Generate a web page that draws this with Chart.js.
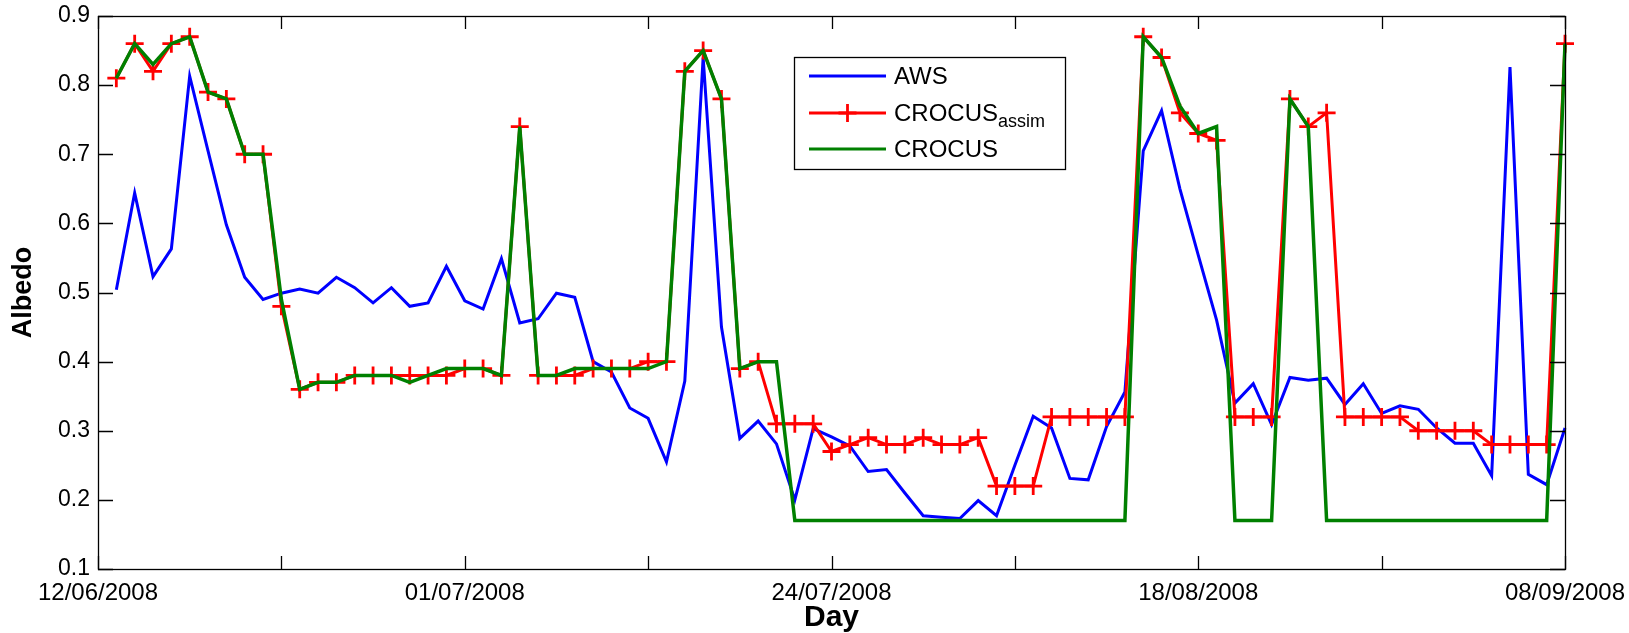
<!DOCTYPE html>
<html>
<head>
<meta charset="utf-8">
<script src="https://cdn.jsdelivr.net/npm/chart.js@4/dist/chart.umd.min.js"></script>
<style>
  html, body { margin: 0; padding: 0; background: #ffffff; }
  #wrap { width: 1629px; height: 633px; }
</style>
</head>
<body>
<div id="wrap"><canvas id="c" width="1629" height="633"></canvas></div>
<script>
// ---- data (one sample per observation day, x = sample number 1..80) ----
const xTickValues = [0, 10, 20, 30, 40, 50, 60, 70, 80];
const xTickLabels = ['12/06/2008', '', '01/07/2008', '', '24/07/2008', '', '18/08/2008', '', '08/09/2008'];
const yTickValues = [0.1, 0.2, 0.3, 0.4, 0.5, 0.6, 0.7, 0.8, 0.9];

const aws = [
  0.504, 0.644, 0.523, 0.563, 0.813, 0.705, 0.598, 0.522, 0.490, 0.499,
  0.505, 0.499, 0.522, 0.507, 0.485, 0.507, 0.480, 0.485, 0.538, 0.488,
  0.476, 0.549, 0.456, 0.462, 0.499, 0.493, 0.400, 0.385, 0.333, 0.318,
  0.255, 0.372, 0.840, 0.450, 0.289, 0.314, 0.281, 0.200, 0.303, 0.291,
  0.278, 0.241, 0.244, 0.210, 0.177, 0.175, 0.173, 0.199, 0.177, 0.250,
  0.321, 0.304, 0.231, 0.229, 0.306, 0.356, 0.705, 0.763, 0.650, 0.554,
  0.460, 0.340, 0.368, 0.309, 0.377, 0.373, 0.376, 0.338, 0.368, 0.325,
  0.336, 0.331, 0.304, 0.282, 0.282, 0.235, 0.826, 0.237, 0.222, 0.304
];
const crocusAssim = [
  0.81, 0.86, 0.82, 0.86, 0.87, 0.79, 0.78, 0.70, 0.70, 0.48,
  0.36, 0.37, 0.37, 0.38, 0.38, 0.38, 0.38, 0.38, 0.38, 0.39,
  0.39, 0.38, 0.74, 0.38, 0.38, 0.38, 0.39, 0.39, 0.39, 0.40,
  0.40, 0.82, 0.85, 0.78, 0.39, 0.40, 0.31, 0.31, 0.31, 0.27,
  0.28, 0.29, 0.28, 0.28, 0.29, 0.28, 0.28, 0.29, 0.22, 0.22,
  0.22, 0.32, 0.32, 0.32, 0.32, 0.32, 0.87, 0.84, 0.76, 0.73,
  0.72, 0.32, 0.32, 0.32, 0.78, 0.74, 0.76, 0.32, 0.32, 0.32,
  0.32, 0.30, 0.30, 0.30, 0.30, 0.28, 0.28, 0.28, 0.28, 0.86
];
const crocus = [
  0.81, 0.86, 0.83, 0.86, 0.87, 0.79, 0.78, 0.70, 0.70, 0.49,
  0.36, 0.37, 0.37, 0.38, 0.38, 0.38, 0.37, 0.38, 0.39, 0.39,
  0.39, 0.38, 0.74, 0.38, 0.38, 0.39, 0.39, 0.39, 0.39, 0.39,
  0.40, 0.82, 0.85, 0.78, 0.39, 0.40, 0.40, 0.17, 0.17, 0.17,
  0.17, 0.17, 0.17, 0.17, 0.17, 0.17, 0.17, 0.17, 0.17, 0.17,
  0.17, 0.17, 0.17, 0.17, 0.17, 0.17, 0.87, 0.84, 0.77, 0.73,
  0.74, 0.17, 0.17, 0.17, 0.78, 0.74, 0.17, 0.17, 0.17, 0.17,
  0.17, 0.17, 0.17, 0.17, 0.17, 0.17, 0.17, 0.17, 0.17, 0.86
];
const seriesNames = ['AWS', 'CROCUS', 'assim', 'CROCUS'];

const toPoints = arr => arr.map((v, i) => ({ x: i + 1, y: v }));
const FONT = "'Liberation Sans', Arial, Helvetica, sans-serif";

// ---- MATLAB-like box with inward ticks on all four sides ----
const framePlugin = {
  id: 'frame',
  afterDatasetsDraw(chart) {
    const { ctx, chartArea: a, scales: { x, y } } = chart;
    ctx.save();
    ctx.strokeStyle = '#000';
    ctx.lineWidth = 1.3;
    ctx.strokeRect(a.left + 0.5, a.top + 0.5, a.right - a.left, a.bottom - a.top);
    ctx.beginPath();
    x.ticks.forEach(t => {
      const px = Math.round(x.getPixelForValue(t.value)) + 0.5;
      ctx.moveTo(px, a.bottom); ctx.lineTo(px, a.bottom - 13);
      ctx.moveTo(px, a.top); ctx.lineTo(px, a.top + 13);
    });
    y.ticks.forEach(t => {
      const py = Math.round(y.getPixelForValue(t.value)) + 0.5;
      ctx.moveTo(a.left, py); ctx.lineTo(a.left + 15, py);
      ctx.moveTo(a.right, py); ctx.lineTo(a.right - 15, py);
    });
    ctx.stroke();
    ctx.restore();
  }
};

// ---- legend with subscript ----
const legendPlugin = {
  id: 'matlabLegend',
  afterDraw(chart) {
    const ctx = chart.ctx;
    const bx = 794, by = 57, bw = 271, bh = 112;
    ctx.save();
    ctx.fillStyle = '#fff';
    ctx.fillRect(bx, by, bw, bh);
    ctx.strokeStyle = '#000';
    ctx.lineWidth = 1.3;
    ctx.strokeRect(bx + 0.5, by + 0.5, bw, bh);
    const ds = chart.data.datasets;
    const rows = [76, 113, 149];
    const x1 = 809, x2 = 886, tx = 894;
    ds.forEach((d, i) => {
      ctx.strokeStyle = d.borderColor;
      ctx.lineWidth = 3;
      ctx.beginPath();
      ctx.moveTo(x1, rows[i]); ctx.lineTo(x2, rows[i]);
      ctx.stroke();
      if (d.pointStyle === 'cross') {
        const mx = (x1 + x2) / 2, r = d.pointRadius;
        ctx.lineWidth = d.pointBorderWidth;
        ctx.beginPath();
        ctx.moveTo(mx - r, rows[i]); ctx.lineTo(mx + r, rows[i]);
        ctx.moveTo(mx, rows[i] - r); ctx.lineTo(mx, rows[i] + r);
        ctx.stroke();
      }
    });
    ctx.fillStyle = '#000';
    ctx.textBaseline = 'middle';
    ctx.textAlign = 'left';
    ctx.font = '24px ' + FONT;
    ctx.fillText(seriesNames[0], tx, rows[0] + 1);
    ctx.fillText(seriesNames[1], tx, rows[1] + 1);
    const w = ctx.measureText(seriesNames[1]).width;
    ctx.font = '18px ' + FONT;
    ctx.fillText(seriesNames[2], tx + w, rows[1] + 9);
    ctx.font = '24px ' + FONT;
    ctx.fillText(seriesNames[3], tx, rows[2] + 1);
    ctx.restore();
  }
};

new Chart(document.getElementById('c'), {
  type: 'line',
  data: {
    datasets: [
      {
        label: 'AWS', data: toPoints(aws),
        borderColor: '#0000ff', backgroundColor: '#0000ff',
        borderWidth: 3, pointRadius: 0, tension: 0, order: 3, clip: false
      },
      {
        label: 'CROCUS assim', data: toPoints(crocusAssim),
        borderColor: '#ff0000', backgroundColor: '#ff0000',
        borderWidth: 3, pointStyle: 'cross', pointRadius: 9,
        pointBorderWidth: 2.8, pointBorderColor: '#ff0000',
        pointHoverRadius: 9, tension: 0, order: 2, clip: false
      },
      {
        label: 'CROCUS', data: toPoints(crocus),
        borderColor: '#008000', backgroundColor: '#008000',
        borderWidth: 3.5, pointRadius: 0, tension: 0, order: 1, clip: false
      }
    ]
  },
  options: {
    responsive: false,
    animation: false,
    devicePixelRatio: 1,
    layout: { padding: { top: 16, right: 64, bottom: 0, left: 0 } },
    plugins: { legend: { display: false }, tooltip: { enabled: false } },
    scales: {
      x: {
        type: 'linear', min: 0, max: 80,
        afterBuildTicks: s => { s.ticks = xTickValues.map(v => ({ value: v })); },
        afterFit: s => { s.height = 64; s.paddingLeft = 0; s.paddingRight = 0; },
        grid: { display: false, drawTicks: false },
        border: { display: false },
        ticks: {
          autoSkip: false, maxRotation: 0, padding: 10, color: '#000',
          font: { family: FONT, size: 24 },
          callback: (v, i) => xTickLabels[i]
        },
        title: {
          display: true, text: 'Day', color: '#000',
          font: { family: FONT, size: 30, weight: 'bold', lineHeight: 1.05 },
          padding: { top: 0, bottom: 0 }
        }
      },
      y: {
        type: 'linear', min: 0.1, max: 0.9,
        afterBuildTicks: s => { s.ticks = yTickValues.map(v => ({ value: v })); },
        afterFit: s => { s.width = 98; s.paddingTop = 0; s.paddingBottom = 0; },
        grid: { display: false, drawTicks: false },
        border: { display: false },
        ticks: {
          padding: 8, color: '#000',
          font: { family: FONT, size: 23 },
          callback: v => v.toFixed(1)
        },
        title: {
          display: true, text: 'Albedo', color: '#000',
          font: { family: FONT, size: 27, weight: 'bold', lineHeight: 1.2 },
          padding: { top: 7, bottom: 0 }
        }
      }
    }
  },
  plugins: [framePlugin, legendPlugin]
});
</script>
</body>
</html>
